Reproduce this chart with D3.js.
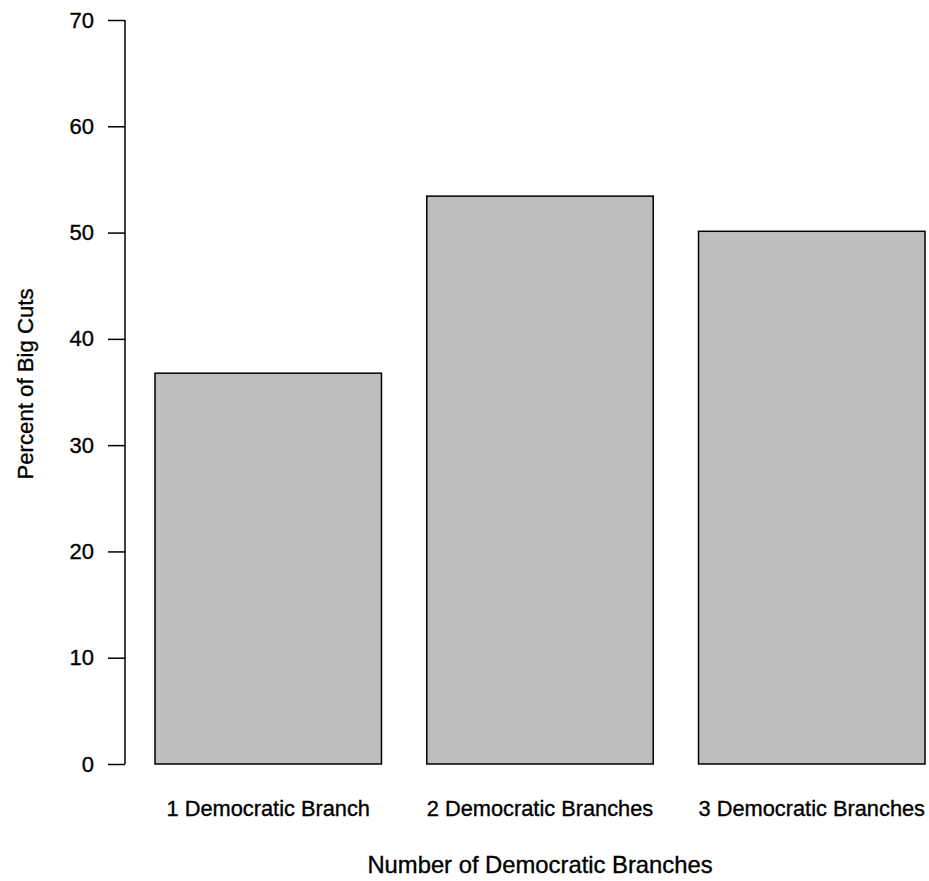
<!DOCTYPE html>
<html>
<head>
<meta charset="utf-8">
<script src="https://cdn.jsdelivr.net/npm/d3@7"></script>
<style>
  html, body { margin: 0; padding: 0; background: #fff; }
  svg { display: block; }
  text { font-family: "Liberation Sans", Arial, sans-serif; fill: #000; stroke: #000; stroke-width: 0.35px; }
</style>
</head>
<body>
<script>
const categories = ["1 Democratic Branch", "2 Democratic Branches", "3 Democratic Branches"];
const values = [36.77, 53.43, 50.12];
const yTicks = [0, 10, 20, 30, 40, 50, 60, 70];
const xTitle = "Number of Democratic Branches";
const yTitle = "Percent of Big Cuts";

const W = 929, H = 881;
const svg = d3.select("body").append("svg").attr("width", W).attr("height", H);

const y = d3.scaleLinear().domain([0, 70]).range([764, 20]);
const x = d3.scaleBand().domain(categories).range([155, 925]).paddingInner(1/6).paddingOuter(0);

// bars
svg.append("g").selectAll("rect").data(values).join("rect")
  .attr("x", (d, i) => x(categories[i]))
  .attr("y", d => y(d))
  .attr("width", x.bandwidth())
  .attr("height", d => y(0) - y(d))
  .attr("fill", "#bebebe")
  .attr("stroke", "#000")
  .attr("stroke-width", 1.5);

// y axis
const yAxis = d3.axisLeft(y).tickValues(yTicks).tickSize(17).tickPadding(14).tickFormat(d3.format("d"));
const gy = svg.append("g").attr("transform", "translate(125,0)").call(yAxis);
gy.select(".domain").attr("d", `M0,${y(70)}V${y(0)}`).attr("stroke", "#000").attr("stroke-width", 1.5);
gy.selectAll(".tick line").attr("stroke", "#000").attr("stroke-width", 1.5);
gy.selectAll(".tick text").attr("font-size", 22).attr("font-family", "Liberation Sans, Arial, sans-serif").attr("fill", "#000");

// x category labels
svg.append("g").selectAll("text").data(categories).join("text")
  .attr("x", d => x(d) + x.bandwidth() / 2)
  .attr("y", 808)
  .attr("dy", "0.35em")
  .attr("text-anchor", "middle")
  .attr("font-size", 21.8)
  .text(d => d);

// axis titles
svg.append("text")
  .attr("x", x(categories[1]) + x.bandwidth() / 2)
  .attr("y", 865)
  .attr("dy", "0.35em")
  .attr("text-anchor", "middle")
  .attr("font-size", 23.8)
  .text(xTitle);

svg.append("text")
  .attr("transform", `translate(25,384) rotate(-90)`)
  .attr("dy", "0.35em")
  .attr("text-anchor", "middle")
  .attr("font-size", 22.2)
  .text(yTitle);
</script>
</body>
</html>
